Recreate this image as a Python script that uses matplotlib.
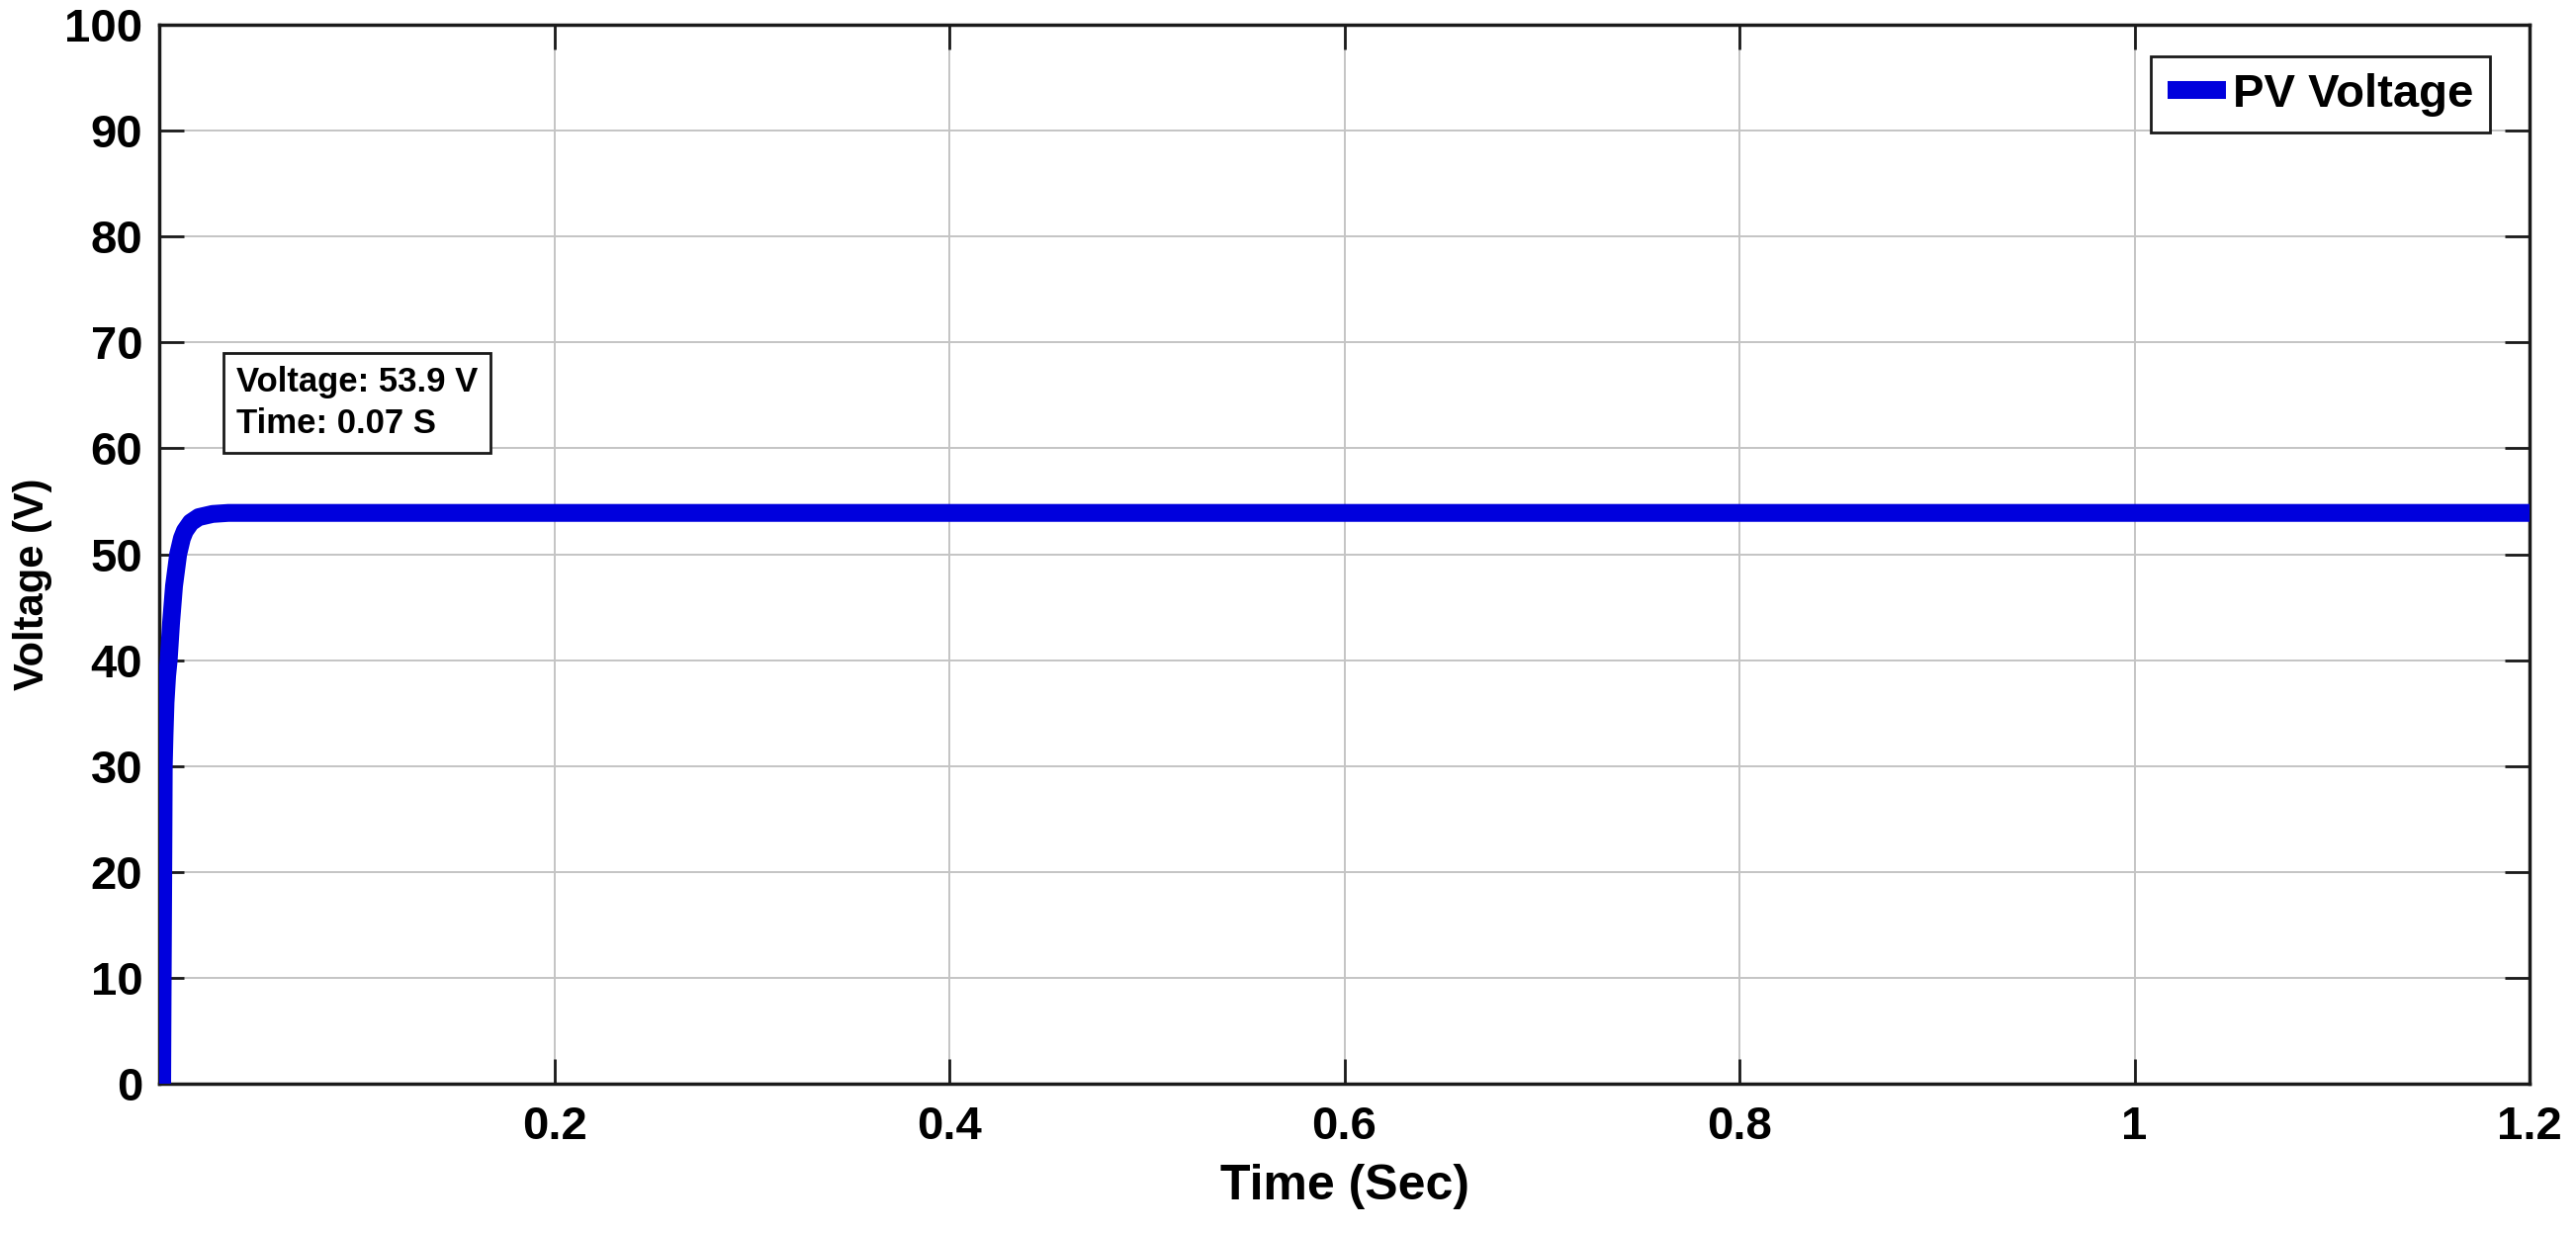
import matplotlib
matplotlib.use("Agg")
import matplotlib.pyplot as plt

plt.rcParams['font.family'] = ['Liberation Sans', 'DejaVu Sans']
plt.rcParams['font.weight'] = 'bold'

# ---- data ----
time_s = [0.0015, 0.0017, 0.0019, 0.0021, 0.0023, 0.0027, 0.0032, 0.0040, 0.0048,
          0.0060, 0.0075, 0.0096, 0.0115, 0.0130, 0.0160, 0.0200, 0.0270, 0.0350,
          0.0500, 0.0700, 0.1000, 0.3000, 0.6000, 0.9000, 1.2000]
voltage_v = [0.0, 8.0, 15.0, 22.0, 30.0, 33.0, 36.0, 38.5, 40.0,
             43.5, 47.0, 50.0, 51.5, 52.2, 53.0, 53.5, 53.8, 53.9,
             53.9, 53.9, 53.9, 53.9, 53.9, 53.9, 53.9]
series_label = "PV Voltage"
xtick_vals = [0.2, 0.4, 0.6, 0.8, 1.0, 1.2]
xtick_labels = ["0.2", "0.4", "0.6", "0.8", "1", "1.2"]
ytick_vals = [0, 10, 20, 30, 40, 50, 60, 70, 80, 90, 100]
annot_lines = ["Voltage: 53.9 V", "Time: 0.07 S"]

W, H = 2605, 1247
fig = plt.figure(figsize=(W / 100, H / 100), dpi=100)
L, R, T, B = 161, 2558, 25, 1096
ax = fig.add_axes([L / W, 1 - B / H, (R - L) / W, (B - T) / H])

ax.plot(time_s, voltage_v, color='#0000dd', lw=13, label=series_label,
        solid_capstyle='butt', zorder=3)

ax.set_xlim(0, 1.2)
ax.set_ylim(0, 100)
ax.set_xticks(xtick_vals)
ax.set_xticklabels(xtick_labels)
ax.set_yticks(ytick_vals)

ax.grid(True, color='#c4c4c4', lw=1.4)
ax.set_axisbelow(True)

for s in ax.spines.values():
    s.set_linewidth(2.5)
    s.set_color('#1a1a1a')

ax.tick_params(axis='both', direction='in', length=18, width=2,
               top=True, right=True, labelsize=34, color='#1a1a1a')
ax.tick_params(axis='y', pad=12)
ax.tick_params(axis='x', pad=16)
for lab in ax.get_xticklabels() + ax.get_yticklabels():
    lab.set_fontweight('bold')

ax.set_xlabel("Time (Sec)", fontsize=36, fontweight='bold')
ax.xaxis.label.set_va('center')
ax.xaxis.set_label_coords(0.5, -0.097)
ax.set_ylabel("Voltage (V)", fontsize=30, fontweight='bold')
ax.yaxis.label.set_va('center')
ax.yaxis.set_label_coords(-0.0534, 0.472)

leg = ax.legend(loc='upper right', bbox_to_anchor=(1 - 40 / (R - L), 1 - 32 / (B - T)),
                borderaxespad=0, fancybox=False, framealpha=1, edgecolor='#1a1a1a',
                prop={'size': 34, 'weight': 'bold'}, handlelength=1.25,
                handletextpad=0.15, borderpad=0.35)
leg.get_frame().set_linewidth(2)

ax.text(0.0325, 0.678, "\n".join(annot_lines), transform=ax.transAxes,
        fontsize=25, fontweight='bold', va='top', ha='left', linespacing=1.35,
        bbox=dict(boxstyle='square,pad=0.38', fc='white', ec='#1a1a1a', lw=2),
        zorder=5)

fig.savefig("out.png", dpi=100, facecolor='white')
